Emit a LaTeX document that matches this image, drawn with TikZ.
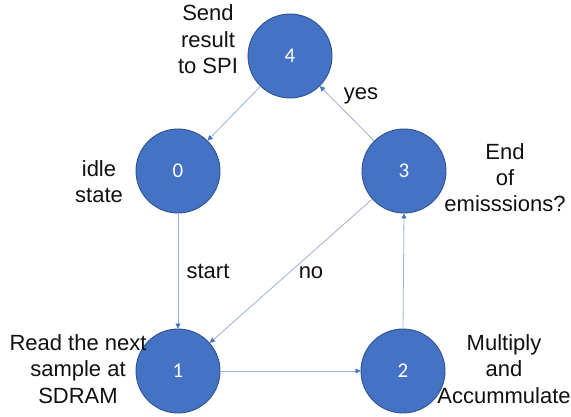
\documentclass[tikz,border=0pt]{standalone}
\usepackage{fontspec}
\setmainfont{Liberation Sans}
\newfontfamily\digitfont{Carlito}
\usetikzlibrary{arrows.meta}
\definecolor{stfill}{HTML}{4472C4}
\definecolor{stline}{HTML}{2F528F}
\definecolor{conn}{HTML}{9DB1D8}
\definecolor{txt}{HTML}{111111}
\begin{document}
\begin{tikzpicture}[x=1pt,y=-1pt,
  state/.style={circle, fill=stfill, draw=stline, line width=0.9pt,
    minimum size=84pt, inner sep=0pt, text=white,
    font=\digitfont\fontsize{21}{24}\selectfont},
  conn/.style={draw=conn, line width=0.8pt,
    -{Triangle[length=5pt,width=5pt,color=stfill]}},
  lbl/.style={text=txt, align=center, anchor=base, inner sep=0pt,
    font=\fontsize{22}{26.5}\selectfont},
]
\useasboundingbox[fill=white] (0,0) rectangle (571,417);

% states
\node[state] (s4) at (290,56) {4};
\node[state] (s0) at (178,171) {0};
\node[state] (s3) at (404,171) {3};
\node[state] (s1) at (178,371) {1};
\node[state] (s2) at (403,371) {2};

% transitions
\draw[conn] (s4) -- (s0);
\draw[conn] (s3) -- (s4);
\draw[conn] (s0) -- (s1);
\draw[conn] (s3) -- (s1);
\draw[conn] (s1) -- (s2);
\draw[conn] (s2.north) -- (s3.south);

% state descriptions (anchored at the baseline of the last line)
\node[lbl] (d4) at (208,74) {Send\\result\\to SPI};
\node[lbl] (d0) at (99,203) {idle\\state};
\node[lbl] (d3) at (505,212) {End\\of\\emisssions?};
\node[lbl] (d1) at (78,403) {Read the next\\sample at\\SDRAM};
\node[lbl] (d2) at (504,403) {Multiply\\and\\Accummulate};

% transition labels
\node[lbl] (lyes) at (361,100) {yes};
\node[lbl] (lstart) at (208,278) {start};
\node[lbl] (lno) at (311,279) {no};
\end{tikzpicture}
\end{document}
